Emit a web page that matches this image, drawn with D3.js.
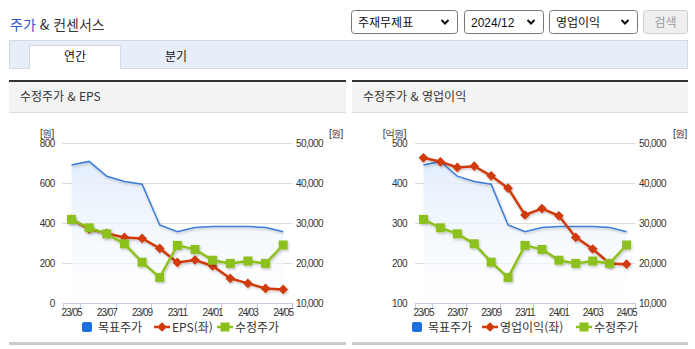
<!DOCTYPE html>
<html lang="ko">
<head>
<meta charset="utf-8">
<script src="https://cdn.jsdelivr.net/npm/d3@7/dist/d3.min.js"></script>
<style>
  html, body { margin: 0; padding: 0; background: #fff; }
  svg { display: block; font-family: "Noto Sans CJK KR", "Noto Sans", sans-serif; }
  .num { font-family: "Liberation Sans", Arial, sans-serif; font-size: 10px; letter-spacing: -0.6px; fill: #333; }
</style>
</head>
<body>
<svg id="page" width="695" height="349"></svg>
<script>
// Monthly categories
const months = ["23/05","23/06","23/07","23/08","23/09","23/10","23/11","23/12","24/01","24/02","24/03","24/04","24/05"];
// 목표주가 (원)
const targetPrice = [44500, 45400, 41700, 40400, 39700, 29500, 27800, 28900, 29100, 29100, 29100, 28900, 27800];
// 수정주가 (원)
const adjPrice = [30900, 28800, 27300, 24800, 20200, 16400, 24400, 23400, 20700, 19900, 20500, 19900, 24500];
// EPS (원, 좌축)
const eps = [418, 370, 348, 328, 323, 273, 203, 215, 185, 123, 98, 73, 68];
// 영업이익 (억원, 좌축)
const opIncome = [463, 453, 439, 442, 418, 387, 320, 336, 318, 264, 235, 199, 197];

// Axis ticks
const epsTicks = [0, 200, 400, 600, 800];
const opTicks = [100, 200, 300, 400, 500];
const priceTicks = [10000, 20000, 30000, 40000, 50000];

const C = {
  blue: "#3d7bd6", blueLegend: "#1f6ee0", red: "#cf3a0c", green: "#8cc01c",
  grid: "#dcdcdc", axis: "#c3cce0", text: "#333"
};

const svg = d3.select("#page");
const defs = svg.append("defs");

const shadow = defs.append("filter").attr("id", "shadow")
  .attr("x", "-10%").attr("y", "-10%").attr("width", "130%").attr("height", "140%");
shadow.append("feDropShadow").attr("dx", 1).attr("dy", 1.5).attr("stdDeviation", 1)
  .attr("flood-color", "#000").attr("flood-opacity", 0.22);

const grad = defs.append("linearGradient").attr("id", "areaFill")
  .attr("gradientUnits", "userSpaceOnUse").attr("x1", 0).attr("x2", 0).attr("y1", 150).attr("y2", 300);
grad.append("stop").attr("offset", 0).attr("stop-color", "#dceafb").attr("stop-opacity", 0.9);
grad.append("stop").attr("offset", 1).attr("stop-color", "#ffffff").attr("stop-opacity", 0.6);

// ---------- page header ----------
const title = svg.append("text").attr("x", 10).attr("y", 30).attr("font-size", 14);
title.append("tspan").attr("fill", "#2f56c8").text("주가");
title.append("tspan").attr("fill", "#333").text(" & 컨센서스");

const selects = [
  { x: 351, w: 106, label: "주재무제표" },
  { x: 464, w: 79, label: "2024/12" },
  { x: 549, w: 88, label: "영업이익" }
];
selects.forEach(s => {
  const g = svg.append("g");
  g.append("rect").attr("x", s.x + 0.5).attr("y", 10.5).attr("width", s.w).attr("height", 23)
    .attr("rx", 3).attr("fill", "#fff").attr("stroke", "#767676");
  g.append("text").attr("x", s.x + 7).attr("y", 26.5).attr("font-size", 12).attr("fill", "#111")
    .style("font-family", /^\d/.test(s.label) ? "'Liberation Sans', Arial, sans-serif" : null)
    .text(s.label);
  const cx = s.x + s.w - 12;
  g.append("path").attr("d", `M${cx - 3.5},${20} L${cx},${23.5} L${cx + 3.5},${20}`)
    .attr("fill", "none").attr("stroke", "#111").attr("stroke-width", 2);
});
svg.append("rect").attr("x", 643.5).attr("y", 10.5).attr("width", 44).attr("height", 23).attr("rx", 3)
  .attr("fill", "#efefef").attr("stroke", "#cfcfcf");
svg.append("text").attr("x", 665.5).attr("y", 26.5).attr("text-anchor", "middle").attr("font-size", 12)
  .attr("fill", "#9a9a9a").text("검색");

// tab bar
svg.append("rect").attr("x", 9.5).attr("y", 40.5).attr("width", 678).attr("height", 28)
  .attr("fill", "#e8eef8").attr("stroke", "#d3dae6");
svg.append("path").attr("d", "M29.5,69 L29.5,45.5 L120.5,45.5 L120.5,69").attr("fill", "#fff").attr("stroke", "#d3dae6");
svg.append("text").attr("x", 75).attr("y", 61).attr("text-anchor", "middle").attr("font-size", 12).attr("fill", "#111").text("연간");
svg.append("text").attr("x", 176).attr("y", 61).attr("text-anchor", "middle").attr("font-size", 12).attr("fill", "#111").text("분기");

// ---------- chart panels ----------
function drawPanel(cfg) {
  const g = svg.append("g");
  // panel header
  g.append("rect").attr("x", cfg.px).attr("y", 82).attr("width", cfg.pw).attr("height", 30).attr("fill", "#f3f3f3");
  g.append("rect").attr("x", cfg.px).attr("y", 80).attr("width", cfg.pw).attr("height", 2).attr("fill", "#333");
  g.append("rect").attr("x", cfg.px).attr("y", 112).attr("width", cfg.pw).attr("height", 1).attr("fill", "#dcdcdc");
  g.append("text").attr("x", cfg.px + 11).attr("y", 101).attr("font-size", 12).attr("fill", "#333").text(cfg.title);
  // panel bottom rule
  g.append("rect").attr("x", cfg.px).attr("y", 342).attr("width", cfg.pw).attr("height", 3).attr("fill", "#cbcbcb");

  const x = d3.scaleBand().domain(months).range([cfg.x0, cfg.x1]);
  const cx = m => x(m) + x.bandwidth() / 2;
  const yL = d3.scaleLinear().domain(cfg.leftDomain).range([303, 143]);
  const yR = d3.scaleLinear().domain([10000, 50000]).range([303, 143]);

  // gridlines
  g.selectAll(".grid").data(cfg.leftTicks.slice(1)).join("line")
    .attr("x1", cfg.x0).attr("x2", cfg.x1)
    .attr("y1", d => Math.round(yL(d)) + 0.5).attr("y2", d => Math.round(yL(d)) + 0.5)
    .attr("stroke", C.grid);

  // left axis labels
  g.selectAll(".ly").data(cfg.leftTicks).join("text").attr("class", "num")
    .attr("x", cfg.x0 - 8).attr("y", d => yL(d) + 3.5).attr("text-anchor", "end")
    .text(d => d3.format(",")(d));
  // right axis labels
  g.selectAll(".ry").data(priceTicks).join("text").attr("class", "num")
    .attr("x", cfg.x1 + 4).attr("y", d => yR(d) + 3.5)
    .text(d => d3.format(",")(d));
  // units
  g.append("text").attr("class", "num").attr("x", cfg.x0 - 9).attr("y", 136.5).attr("text-anchor", "end").text(cfg.leftUnit);
  g.append("text").attr("class", "num").attr("x", cfg.unitRX).attr("y", 136.5).text("[원]");

  // x axis
  g.append("line").attr("x1", cfg.x0).attr("x2", cfg.x1).attr("y1", 303.5).attr("y2", 303.5).attr("stroke", C.axis);
  const tickXs = [cfg.x0].concat(months.filter((m, i) => i % 2 === 0).map(m => x(m) + x.bandwidth()));
  g.selectAll(".xt").data(tickXs).join("line")
    .attr("x1", d => Math.round(d) + 0.5).attr("x2", d => Math.round(d) + 0.5)
    .attr("y1", 303).attr("y2", 309).attr("stroke", C.axis);
  g.selectAll(".xl").data(months.filter((m, i) => i % 2 === 0)).join("text").attr("class", "num")
    .attr("x", d => cx(d)).attr("y", 316).attr("text-anchor", "middle")
    .style("letter-spacing", "-1px").text(d => d);

  // 목표주가 area + line
  const area = d3.area().x((d, i) => cx(months[i])).y0(303).y1(d => yR(d));
  g.append("path").datum(targetPrice).attr("d", area).attr("fill", "url(#areaFill)");
  const lineR = d3.line().x((d, i) => cx(months[i])).y(d => yR(d));
  g.append("path").datum(targetPrice).attr("d", lineR).attr("fill", "none")
    .attr("stroke", C.blue).attr("stroke-width", 1.5).attr("filter", "url(#shadow)");

  // left-axis series (EPS / 영업이익)
  const lineL = d3.line().x((d, i) => cx(months[i])).y(d => yL(d));
  const red = g.append("g").attr("filter", "url(#shadow)");
  red.append("path").datum(cfg.leftData).attr("d", lineL).attr("fill", "none")
    .attr("stroke", C.red).attr("stroke-width", 2.5);
  red.selectAll("path.m").data(cfg.leftData).join("path").attr("class", "m")
    .attr("transform", (d, i) => `translate(${cx(months[i])},${yL(d)})`)
    .attr("d", d3.symbol(d3.symbolDiamond2, 60)).attr("fill", C.red);

  // 수정주가
  const green = g.append("g").attr("filter", "url(#shadow)");
  green.append("path").datum(adjPrice).attr("d", lineR).attr("fill", "none")
    .attr("stroke", C.green).attr("stroke-width", 2.5);
  green.selectAll("rect").data(adjPrice).join("rect")
    .attr("x", (d, i) => cx(months[i]) - 4.5).attr("y", d => yR(d) - 4.5)
    .attr("width", 9).attr("height", 9).attr("fill", C.green);

  // legend
  const L = cfg.legend;
  const lg = g.append("g");
  lg.append("rect").attr("x", L.sq).attr("y", 322).attr("width", 10).attr("height", 10).attr("rx", 2).attr("fill", C.blueLegend);
  lg.append("text").attr("x", L.sq + 16).attr("y", 332).attr("font-size", 12).attr("fill", C.text).text("목표주가");
  lg.append("line").attr("x1", L.red).attr("x2", L.red + 16).attr("y1", 327).attr("y2", 327).attr("stroke", C.red).attr("stroke-width", 2.5);
  lg.append("path").attr("transform", `translate(${L.red + 8},327)`).attr("d", d3.symbol(d3.symbolDiamond2, 60)).attr("fill", C.red);
  lg.append("text").attr("x", L.red + 18).attr("y", 332).attr("font-size", 12).attr("fill", C.text).text(cfg.leftName);
  lg.append("line").attr("x1", L.green).attr("x2", L.green + 16).attr("y1", 327).attr("y2", 327).attr("stroke", C.green).attr("stroke-width", 2.5);
  lg.append("rect").attr("x", L.green + 3.5).attr("y", 322.5).attr("width", 9).attr("height", 9).attr("fill", C.green);
  lg.append("text").attr("x", L.green + 18).attr("y", 332).attr("font-size", 12).attr("fill", C.text).text("수정주가");
}

drawPanel({
  px: 9, pw: 337, title: "수정주가 & EPS",
  x0: 62.7, x1: 292, leftDomain: [0, 800], leftTicks: epsTicks, leftData: eps,
  leftUnit: "[원]", unitRX: 329, leftName: "EPS(좌)",
  legend: { sq: 82, red: 154, green: 217 }
});
drawPanel({
  px: 352, pw: 336, title: "수정주가 & 영업이익",
  x0: 415, x1: 635, leftDomain: [100, 500], leftTicks: opTicks, leftData: opIncome,
  leftUnit: "[억원]", unitRX: 673, leftName: "영업이익(좌)",
  legend: { sq: 412, red: 482, green: 576 }
});
</script>
</body>
</html>
